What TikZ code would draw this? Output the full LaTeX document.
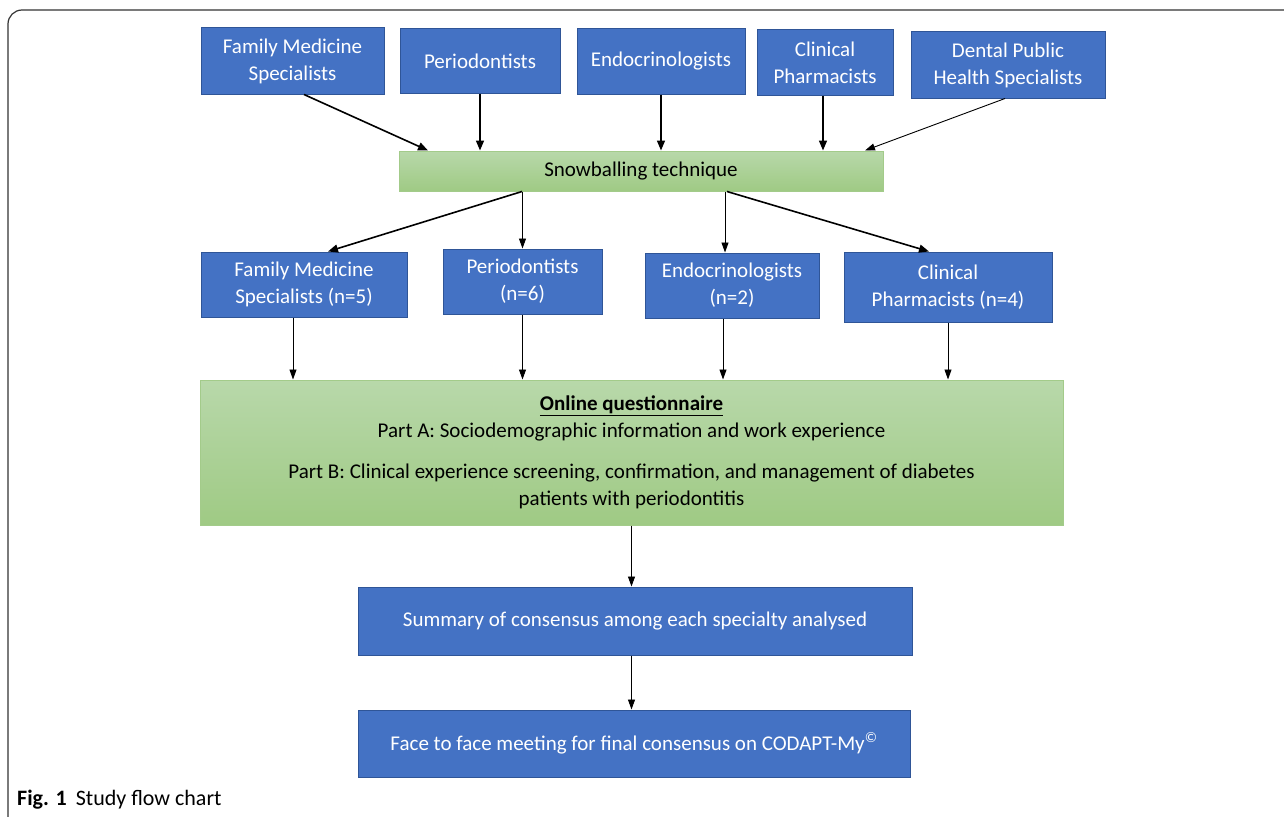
\documentclass[tikz,border=0pt]{standalone}
\usepackage{fontspec}
\setmainfont{Carlito}
\usetikzlibrary{arrows.meta,calc}
\definecolor{bluefill}{HTML}{4472C4}
\definecolor{blueline}{HTML}{2F5597}
\definecolor{greentop}{HTML}{B8D8AA}
\definecolor{greenbot}{HTML}{9FCA84}
\definecolor{greenline}{HTML}{A3CB8A}
\definecolor{framegray}{HTML}{333333}
\tikzset{
  bluebox/.style={draw=blueline, line width=1pt, fill=bluefill, text=white, align=center, inner sep=0pt,
    font=\fontsize{21}{27}\selectfont},
  greenbox/.style={draw=greenline, line width=1pt, top color=greentop, bottom color=greenbot, text=black, align=center, inner sep=0pt,
    font=\fontsize{21}{27}\selectfont},
  thickarr/.style={-{Triangle[length=10pt,width=8pt]}, line width=1.6pt, black},
  thinarr/.style={-{Triangle[length=10pt,width=7pt]}, line width=0.9pt, black},
}
\begin{document}
\begin{tikzpicture}[x=1pt,y=-1pt]
\useasboundingbox (0,0) rectangle (1284,816);
\fill[white] (0,0) rectangle (1284,816);
% frame
\draw[framegray, line width=1.2pt, rounded corners=14pt] (8,830) -- (8,10) -- (1300,10);
% top row
\node[bluebox, minimum width=183pt, minimum height=66pt] (t1) at (292.5,61) {Family Medicine\\Specialists};
\node[bluebox, minimum width=160pt, minimum height=64pt] (t2) at (480,61) {Periodontists};
\node[bluebox, minimum width=168pt, minimum height=65pt] (t3) at (661,61.5) {Endocrinologists};
\node[bluebox, minimum width=136pt, minimum height=65pt] (t4) at (825,62.5) {Clinical\\Pharmacists};
\node[bluebox, minimum width=194pt, minimum height=66pt] (t5) at (1008,65) {Dental Public\\Health Specialists};
% snowballing
\node[greenbox, minimum width=484pt, minimum height=40pt] (snow) at (641,171) {Snowballing technique};
% middle row
\node[bluebox, minimum width=206pt, minimum height=65pt] (m1) at (304,284.5) {Family Medicine\\Specialists (n=5)};
\node[bluebox, minimum width=159pt, minimum height=65pt] (m2) at (522.5,281.5) {Periodontists\\(n=6)};
\node[bluebox, minimum width=174pt, minimum height=65pt] (m3) at (732,285.5) {Endocrinologists\\(n=2)};
\node[bluebox, minimum width=208pt, minimum height=70pt] (m4) at (948,287) {Clinical\\Pharmacists (n=4)};
% questionnaire
\node[greenbox, minimum width=863pt, minimum height=145pt] (q) at (631.5,452.5)
  {\textbf{\underline{Online questionnaire}}\\
   Part A: Sociodemographic information and work experience\\[14pt]
   Part B: Clinical experience screening, confirmation, and management of diabetes\\
   patients with periodontitis};
% bottom
\node[bluebox, minimum width=554pt, minimum height=68pt] (s) at (635,621) {Summary of consensus among each specialty analysed};
\node[bluebox, minimum width=552pt, minimum height=67pt] (f) at (634,743.5) {Face to face meeting for final consensus on CODAPT-My\textsuperscript{\copyright}};
% caption
\node[anchor=west, inner sep=0pt, font=\fontsize{22}{24}\selectfont] (cap) at (17,800) {\textbf{Fig. 1}\hspace{9pt}Study flow chart};
% arrows top -> snowballing
\draw[thickarr] ([xshift=11.5pt]t1.south) -- ([xshift=-213pt]snow.north);
\draw[thickarr] (t2.south) -- (t2.south |- snow.north);
\draw[thickarr] (t3.south) -- (t3.south |- snow.north);
\draw[thickarr] ([xshift=-2pt]t4.south) -- ([xshift=-2pt]t4.south |- snow.north);
\draw[thinarr] ([xshift=-3pt]t5.south) -- ([xshift=224pt]snow.north);
% snowballing -> middle
\draw[thickarr] ([xshift=-119pt]snow.south) -- ([xshift=24pt]m1.north);
\draw[thinarr] (m2.north |- snow.south) -- (m2.north);
\draw[thinarr] ([xshift=-7pt]m3.north |- snow.south) -- ([xshift=-7pt]m3.north);
\draw[thickarr] ([xshift=86pt]snow.south) -- ([xshift=-19pt]m4.north);
% middle -> questionnaire
\draw[thinarr] ([xshift=-11pt]m1.south) -- ([xshift=-11pt]m1.south |- q.north);
\draw[thinarr] (m2.south) -- (m2.south |- q.north);
\draw[thinarr] ([xshift=-9pt]m3.south) -- ([xshift=-9pt]m3.south |- q.north);
\draw[thinarr] (m4.south) -- (m4.south |- q.north);
% questionnaire -> summary -> face
\draw[thinarr] (q.south) -- (q.south |- s.north);
\draw[thinarr] (q.south |- s.south) -- (q.south |- f.north);
\end{tikzpicture}
\end{document}
